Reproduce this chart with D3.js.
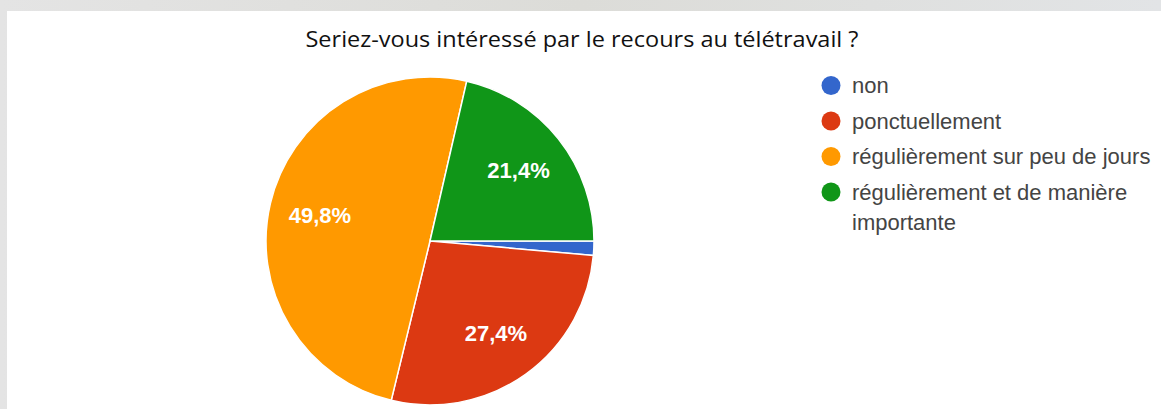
<!DOCTYPE html>
<html><head><meta charset="utf-8">
<script src="https://cdn.jsdelivr.net/npm/d3@7/dist/d3.min.js"></script>
<style>html,body{margin:0;padding:0;background:#fff;overflow:hidden}</style>
</head><body>
<svg id="c" width="1161" height="409"></svg>
<script>
const title = "Seriez-vous intéressé par le recours au télétravail ?";
const categories = ["non", "ponctuellement", "régulièrement sur peu de jours", "régulièrement et de manière importante"];
const values = [1.4, 27.4, 49.8, 21.4];
const labels = ["", "27,4%", "49,8%", "21,4%"];
const colors = ["#3366cc", "#dc3912", "#ff9900", "#109618"];
const legendLines = [["non"], ["ponctuellement"], ["régulièrement sur peu de jours"], ["régulièrement et de manière", "importante"]];

const svg = d3.select("#c");
const W = 1161, H = 409;

// background frame
const defs = svg.append("defs");
const g1 = defs.append("linearGradient").attr("id","bg").attr("x1",0).attr("x2",1).attr("y1",0).attr("y2",0);
g1.append("stop").attr("offset","0").attr("stop-color","#e4e4e4");
g1.append("stop").attr("offset","0.5").attr("stop-color","#dcdcd8");
g1.append("stop").attr("offset","1").attr("stop-color","#e2e4e6");
svg.append("rect").attr("width",W).attr("height",H).attr("fill","url(#bg)");
svg.append("rect").attr("x",7).attr("y",11).attr("width",W-7).attr("height",H-11).attr("fill","#fff");

// title
const t = svg.append("text").attr("x",582).attr("y",47).attr("text-anchor","middle")
  .attr("font-family","'Open Sans', sans-serif").attr("font-size",21).attr("fill","#111")
  .text(title);
t.attr("textLength",553).attr("lengthAdjust","spacingAndGlyphs");

// pie
const cx = 430, cy = 241, r = 164;
const pie = d3.pie().sort(null).value(d => d).startAngle(Math.PI/2).endAngle(Math.PI/2 + 2*Math.PI);
const arcs = pie(values);
const arc = d3.arc().innerRadius(0).outerRadius(r);
const labelArc = d3.arc().innerRadius(r*0.69).outerRadius(r*0.69);
const gp = svg.append("g").attr("transform",`translate(${cx},${cy})`);
gp.selectAll("path").data(arcs).join("path")
  .attr("d",arc).attr("fill",(d,i)=>colors[i]).attr("stroke","#fff").attr("stroke-width",1.5);
gp.selectAll("text").data(arcs).join("text")
  .attr("transform",d=>`translate(${labelArc.centroid(d)})`)
  .attr("text-anchor","middle").attr("dy","0.36em")
  .attr("font-family","'Liberation Sans', Arial, sans-serif").attr("font-size",22).attr("font-weight","bold")
  .attr("fill","#fff")
  .text((d,i)=>labels[i]);

// legend
const rowsY = [85.5, 121, 156.5, 192];
const lg = svg.append("g");
categories.forEach((c,i)=>{
  lg.append("circle").attr("cx",831).attr("cy",rowsY[i]).attr("r",9.5).attr("fill",colors[i]);
  legendLines[i].forEach((ln,j)=>{
    lg.append("text").attr("x",852).attr("y",rowsY[i]+7.5+j*30.5)
      .attr("font-family","'Liberation Sans', Arial, sans-serif").attr("font-size",22).attr("fill","#444")
      .text(ln);
  });
});
</script>
</body></html>
